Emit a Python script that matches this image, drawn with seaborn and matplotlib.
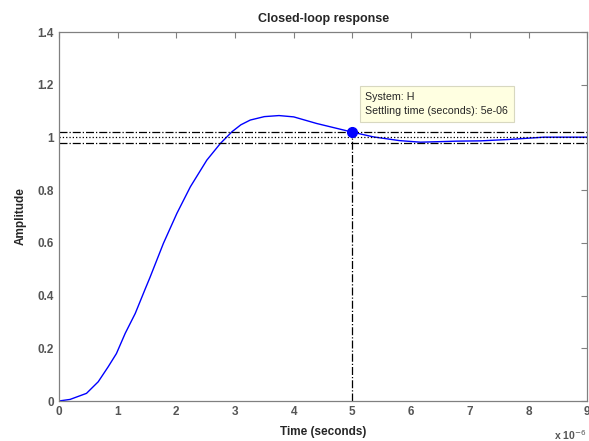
import numpy as np
import pandas as pd
import matplotlib
matplotlib.use("Agg")
import matplotlib.pyplot as plt
import seaborn as sns

# step response (time in microseconds)
t_us = [0, 0.19, 0.47, 0.67, 0.84, 0.98, 1.13, 1.30, 1.47, 1.55, 1.78,
        2.01, 2.24, 2.52, 2.75, 2.95, 3.10, 3.26, 3.50, 3.75, 4.0, 4.39,
        5.0, 5.36, 5.8, 6.16, 6.79, 7.18, 7.64, 8.26, 9.0]
amp = [0, 0.006, 0.029, 0.073, 0.13, 0.18, 0.257, 0.332, 0.425, 0.468,
       0.598, 0.712, 0.813, 0.914, 0.977, 1.022, 1.048, 1.066, 1.079, 1.083,
       1.078, 1.053, 1.02, 1.002, 0.988, 0.982, 0.986, 0.987, 0.992, 1.001,
       1.001]
settle_t = 5.0
settle_y = 1.02
band = [1.02, 1.0, 0.98]
band_styles = ['-.', ':', '-.']
x_ticks = [0, 1, 2, 3, 4, 5, 6, 7, 8, 9]
y_ticks = [0, 0.2, 0.4, 0.6, 0.8, 1.0, 1.2, 1.4]
y_tick_labels = ['0', '0.2', '0.4', '0.6', '0.8', '1', '1.2', '1.4']

df = pd.DataFrame({'t': t_us, 'y': amp})

sns.set_style("white")
plt.rcParams['font.family'] = ['Liberation Sans', 'DejaVu Sans']

fig = plt.figure(figsize=(5.89, 4.41), dpi=100)
ax = fig.add_axes([0.100, 0.0907, 0.897, 0.8367])

sns.lineplot(data=df, x='t', y='y', ax=ax, color='#0000FF', linewidth=1.0,
             estimator=None, sort=True)

for yv, ls in zip(band, band_styles):
    ax.axhline(yv, color='black', linestyle=ls, linewidth=0.9)
ax.plot([settle_t, settle_t], [0, settle_y], color='black', linestyle='-.',
        linewidth=0.9)
ax.plot([settle_t], [settle_y], 'o', color='#0000FF', markersize=7)

ax.text(5.22, 1.127, "System: H\nSettling time (seconds): 5e-06",
        fontsize=7.7, va='center', ha='left', linespacing=1.6,
        bbox=dict(boxstyle='square,pad=0.5', facecolor='#FFFFE1',
                  edgecolor='#D8D8C0', linewidth=0.8))

ax.set_xlim(0, 9)
ax.set_ylim(0, 1.4)
ax.set_xticks(x_ticks)
ax.set_yticks(y_ticks)
ax.set_yticklabels(y_tick_labels)
ax.tick_params(direction='in', length=4, width=0.8, colors='#808080',
               labelcolor='#555555', labelsize=8.5, top=True, right=True)
for lab in ax.get_xticklabels() + ax.get_yticklabels():
    lab.set_fontweight('bold')
for sp in ax.spines.values():
    sp.set_color('#808080')
    sp.set_linewidth(0.9)

ax.set_title('Closed-loop response', fontsize=9, fontweight='bold', pad=7)
ax.set_xlabel('Time (seconds)', fontsize=8.5, fontweight='bold', labelpad=6)
ax.set_ylabel('Amplitude', fontsize=8.5, fontweight='bold', labelpad=8)
ax.text(0.999, -0.075, r'x 10$^{-6}$', transform=ax.transAxes, ha='right',
        va='top', fontsize=7.5, color='#555555', fontweight='bold')

fig.savefig('out.png', dpi=100)
